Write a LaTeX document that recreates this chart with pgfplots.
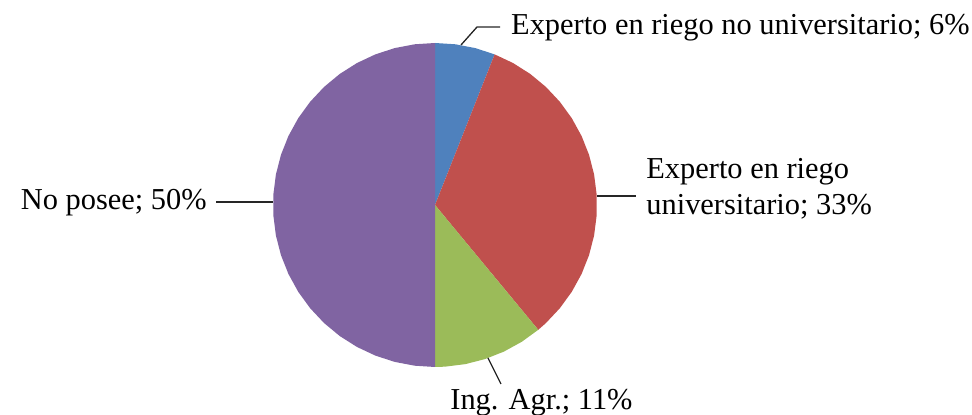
\documentclass[border=0pt]{standalone}
\usepackage{pgfplots}
\pgfplotsset{compat=1.18}
\usepgfplotslibrary{polar}
\usepackage{fontspec}
\setmainfont{Liberation Serif}

\definecolor{sliceblue}{HTML}{4F81BD}
\definecolor{slicered}{HTML}{C0504D}
\definecolor{slicegreen}{HTML}{9BBB59}
\definecolor{slicepurple}{HTML}{8064A2}

% shares: 6, 33, 11, 50 (%), clockwise from 12 o'clock -> angles (deg)
% 90..68.4 | 68.4..-50.4 | -50.4..-90 | 270..90
\begin{document}
\begin{tikzpicture}[font=\fontsize{15.2}{18}\selectfont]
\begin{polaraxis}[
  hide axis,
  scale only axis,
  width=162pt, height=162pt,
  ymin=0, ymax=1,
  clip=false,
]
% Experto en riego no universitario; 6%
\addplot[draw=none, fill=sliceblue] coordinates {
  (0,0) (90,1) (82.8,1) (75.6,1) (68.4,1)} -- cycle;
% Experto en riego universitario; 33%
\addplot[draw=none, fill=slicered] coordinates {
  (0,0) (68.4,1) (61.2,1) (54,1) (46.8,1) (39.6,1) (32.4,1) (25.2,1)
  (18,1) (10.8,1) (3.6,1) (-3.6,1) (-10.8,1) (-18,1) (-25.2,1)
  (-32.4,1) (-39.6,1) (-46.8,1) (-50.4,1)} -- cycle;
% Ing. Agr.; 11%
\addplot[draw=none, fill=slicegreen] coordinates {
  (0,0) (-50.4,1) (-57.6,1) (-64.8,1) (-72,1) (-79.2,1) (-86.4,1) (-90,1)} -- cycle;
% No posee; 50%
\addplot[draw=none, fill=slicepurple] coordinates {
  (0,0) (270,1) (262.8,1) (255.6,1) (248.4,1) (241.2,1) (234,1) (226.8,1)
  (219.6,1) (212.4,1) (205.2,1) (198,1) (190.8,1) (183.6,1) (176.4,1)
  (169.2,1) (162,1) (154.8,1) (147.6,1) (140.4,1) (133.2,1) (126,1)
  (118.8,1) (111.6,1) (104.4,1) (97.2,1) (90,1)} -- cycle;
\coordinate (C) at (axis cs:0,0);
\end{polaraxis}

% leader lines and labels
\draw[black!85, line width=0.65pt] ([shift={(13pt,80pt)}]C) -- ([shift={(21pt,89pt)}]C) -- ([shift={(32.5pt,89pt)}]C);
\node[anchor=base east, inner sep=0] at ([shift={(267.5pt,85pt)}]C) {Experto en riego no universitario; 6\%};

\draw[black!85, line width=0.65pt] ([shift={(81pt,4.5pt)}]C) -- ([shift={(100.5pt,4.5pt)}]C);
\node[anchor=base west, inner sep=0] at ([shift={(105.5pt,13pt)}]C) {Experto en riego};
\node[anchor=base west, inner sep=0] at ([shift={(105.5pt,-5pt)}]C) {universitario; 33\%};

\draw[black!85, line width=0.65pt] ([shift={(-109.5pt,1.5pt)}]C) -- ([shift={(-81pt,1.5pt)}]C);
\node[anchor=base east, inner sep=0] at ([shift={(-114pt,-2.5pt)}]C) {No posee; 50\%};

\draw[black!85, line width=0.65pt] ([shift={(26.5pt,-76.5pt)}]C) -- ([shift={(33pt,-89.5pt)}]C);
\node[anchor=base west, inner sep=0] at ([shift={(7.5pt,-102.5pt)}]C) {Ing. Agr.; 11\%};

\pgfresetboundingbox
\path (C) ++(-217.5pt,-105pt) rectangle ++(486pt,207.5pt);
\end{tikzpicture}
\end{document}
